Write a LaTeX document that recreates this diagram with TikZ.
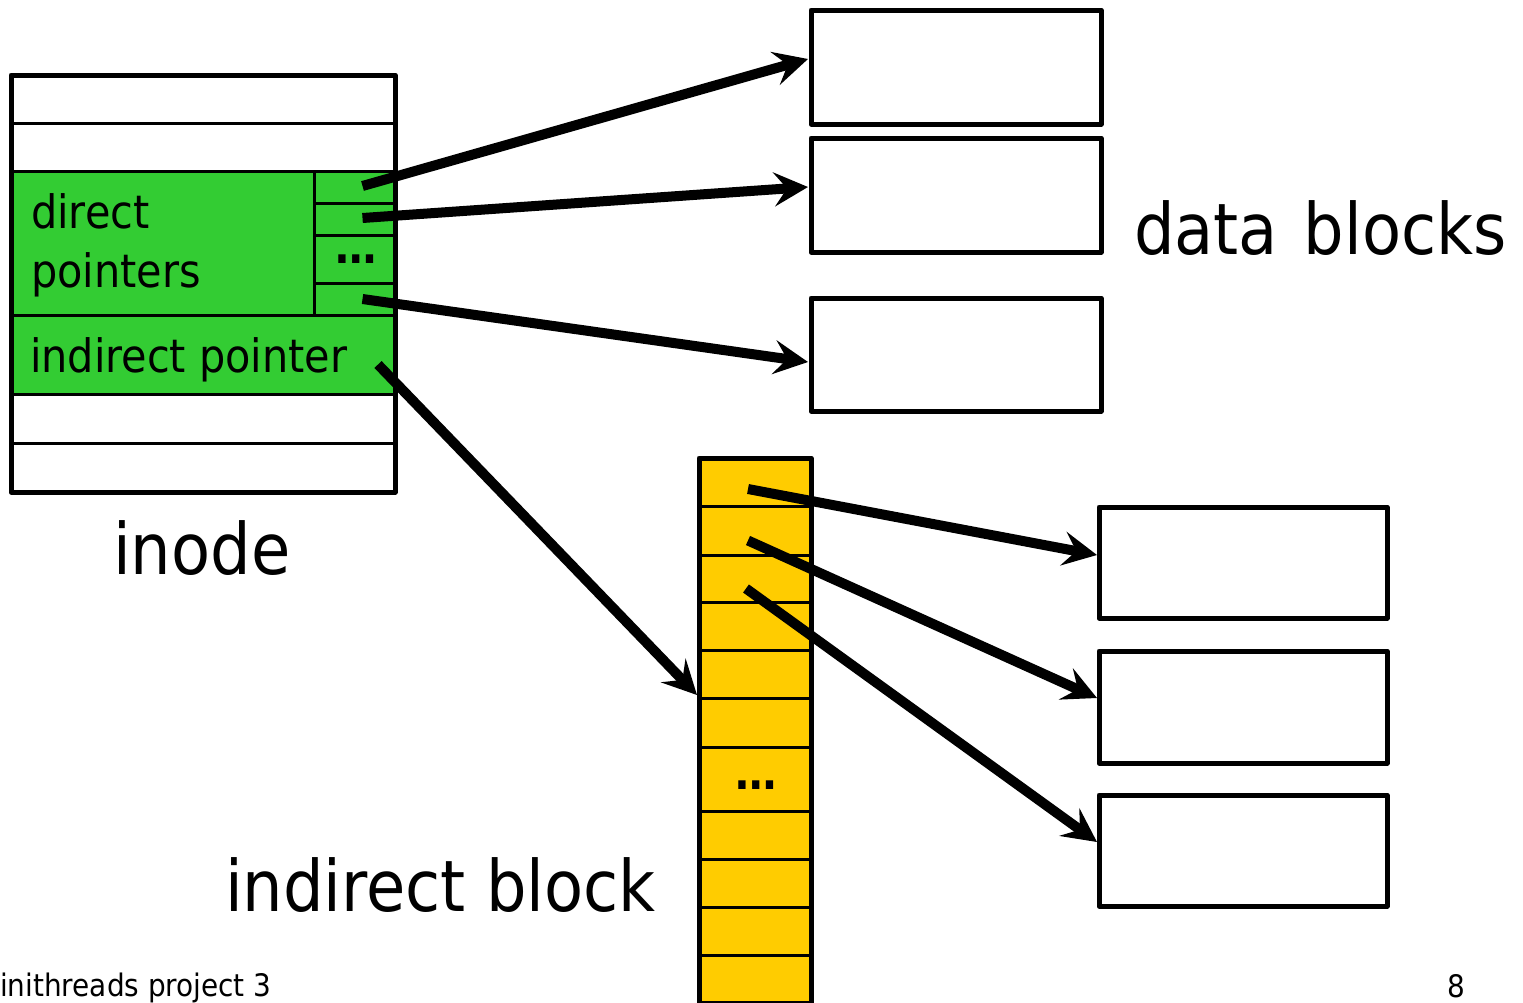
\documentclass[tikz,border=0pt]{standalone}
\usepackage{fontspec}
\setmainfont{DejaVu Sans Condensed}
\usetikzlibrary{arrows.meta,calc}
\definecolor{ptrgreen}{HTML}{33CC33}
\definecolor{blockyellow}{HTML}{FFCC00}
\tikzset{
  cellbox/.style={draw=black,line width=3pt,inner sep=0pt,outer sep=0pt,anchor=north west},
  greencell/.style={cellbox,fill=ptrgreen},
  yellowcell/.style={cellbox,fill=blockyellow,minimum width=112pt,minimum height=48pt},
  framebox/.style={draw=black,line width=5pt,inner sep=0pt,outer sep=0pt,anchor=north west,line join=round},
  datablock/.style={framebox,fill=white,minimum width=290pt},
  datablockb/.style={framebox,fill=white,minimum width=288pt},
  ptr/.style={line width=10pt,-{Stealth[length=34pt,width=34pt,inset=13pt]}},
  biglabel/.style={font=\fontsize{71}{80}\selectfont,inner sep=0pt,anchor=base west},
  midlabel/.style={font=\fontsize{46}{52}\selectfont,inner sep=0pt,anchor=base west},
  dotlabel/.style={font=\fontsize{46}{52}\selectfont\bfseries,inner sep=0pt,anchor=base},
  smalllabel/.style={font=\fontsize{31}{36}\selectfont,inner sep=0pt}
}
\begin{document}
\begin{tikzpicture}[x=1pt,y=-1pt]
\useasboundingbox (0,0) rectangle (1523,1002);
\clip (0,0) rectangle (1523,1002);
% inode cells
\node[cellbox,minimum width=384pt,minimum height=48pt] (r1) at (11,75) {};
\node[cellbox,minimum width=384pt,minimum height=48pt] (r2) at (11,123) {};
\node[greencell,minimum width=303pt,minimum height=144pt] (dp) at (11,171) {};
\node[greencell,minimum width=81pt,minimum height=32pt] (c1) at (314,171) {};
\node[greencell,minimum width=81pt,minimum height=32pt] (c2) at (314,203) {};
\node[greencell,minimum width=81pt,minimum height=48pt] (c3) at (314,235) {};
\node[greencell,minimum width=81pt,minimum height=32pt] (c4) at (314,283) {};
\node[greencell,minimum width=384pt,minimum height=79pt] (ip) at (11,315) {};
\node[cellbox,minimum width=384pt,minimum height=49pt] (r5) at (11,394) {};
\node[cellbox,minimum width=384pt,minimum height=49pt] (r6) at (11,443) {};
\node[midlabel] (tdirect) at (31,228) {direct};
\node[midlabel] (tpointers) at (31,287) {pointers};
\node[midlabel] (tindirect) at (30,372) {indirect pointer};
\node[dotlabel] (dots1) at (356,263) {…};
% indirect block cells
\node[yellowcell] (b1) at (699,458) {};
\node[yellowcell,minimum height=49pt] (b2) at (699,506) {};
\node[yellowcell,minimum height=47pt] (b3) at (699,555) {};
\node[yellowcell] (b4) at (699,602) {};
\node[yellowcell] (b5) at (699,650) {};
\node[yellowcell,minimum height=49pt] (b6) at (699,698) {};
\node[yellowcell,minimum height=64pt] (b7) at (699,747) {};
\node[yellowcell] (b8) at (699,811) {};
\node[yellowcell] (b9) at (699,859) {};
\node[yellowcell] (b10) at (699,907) {};
\node[yellowcell] (b11) at (699,955) {};
\node[dotlabel] (dots2) at (756,789) {…};
% data blocks
\node[datablock,minimum height=114pt] (d1) at (811,10) {};
\node[datablock,minimum height=114pt] (d2) at (811,138) {};
\node[datablock,minimum height=113pt] (d3) at (811,298) {};
\node[datablockb,minimum height=111pt] (e1) at (1099,507) {};
\node[datablockb,minimum height=112pt] (e2) at (1099,651) {};
\node[datablockb,minimum height=111pt] (e3) at (1099,795) {};
% pointer start points
\coordinate (p1) at ($(c1.center)+(8,-1)$);
\coordinate (p2) at ($(c2.center)+(8,-1)$);
\coordinate (p3) at ($(c4.center)+(8,0)$);
\coordinate (pi) at ($(ip.east)+(-17,10)$);
\coordinate (q1) at ($(b1.center)+(-7,7)$);
\coordinate (q2) at ($(b2.center)+(-7,10)$);
\coordinate (q3) at ($(b3.center)+(-9,10)$);
% arrows
\draw[ptr] (p1) -- ($(d1.west)+(-3,-8)$);
\draw[ptr] (p2) -- ($(d2.west)+(-3,-8)$);
\draw[ptr] (p3) -- ($(d3.west)+(-3,7.5)$);
\draw[ptr] (pi) -- ($(b6.north west)+(-2,-3)$);
\draw[ptr] (q1) -- ($(e1.west)+(-2,-7.5)$);
\draw[ptr] (q2) -- ($(e2.west)+(-2,-9)$);
\draw[ptr] (q3) -- ($(e3.west)+(-2,-8.5)$);
% outer frames
\node[framebox,minimum width=384pt,minimum height=417pt] (inode) at (11,75) {};
\node[framebox,minimum width=112pt,minimum height=545pt] (iblock) at (699,458) {};
% labels
\node[biglabel] (ldata) at (1134,254) {data\hspace{0.08em} blocks};
\node[biglabel] (linode) at (113,574) {inode};
\node[biglabel] (lindirect) at (225,911) {indirect block};
\node[smalllabel,anchor=base west] (footer) at (0,996) {inithreads project 3};
\node[smalllabel,anchor=base] (page) at (1456,997) {8};
\end{tikzpicture}
\end{document}
